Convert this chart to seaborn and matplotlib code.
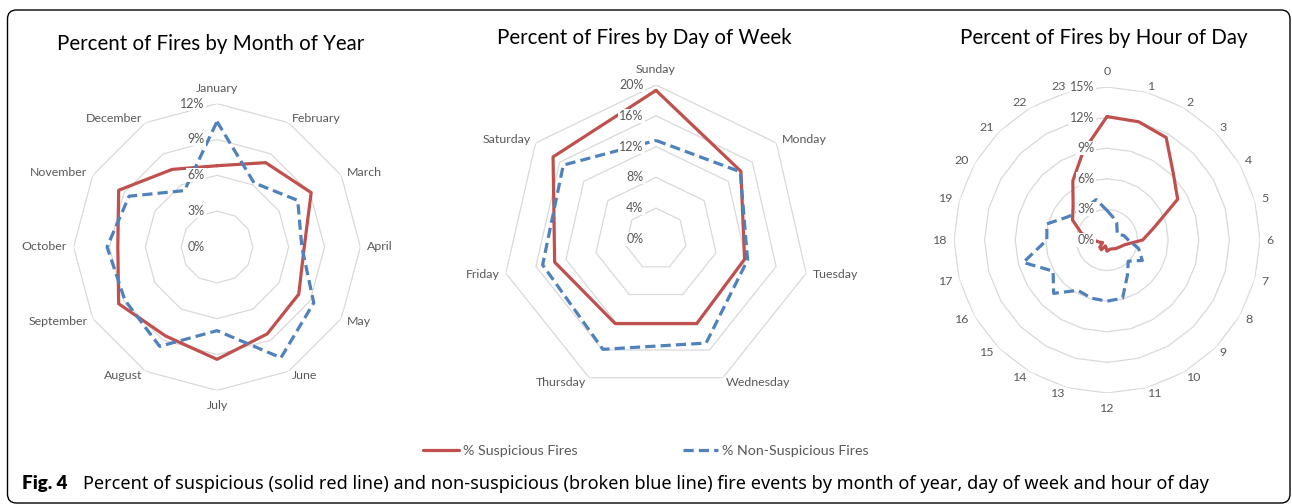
"""
Radar charts: percent of suspicious vs non-suspicious fires
by month of year, day of week and hour of day
"""

import numpy as np
import pandas as pd
import matplotlib
matplotlib.use("Agg")
import matplotlib.pyplot as plt
from matplotlib.patches import FancyBboxPatch
from matplotlib.transforms import IdentityTransform
import seaborn as sns

# ---------- data (percent of fires) ----------
months = ['January', 'February', 'March', 'April', 'May', 'June',
          'July', 'August', 'September', 'October', 'November', 'December']
month_susp = [6.8, 8.15, 9.1, 7.3, 7.9, 8.4, 9.4, 8.6, 9.5, 8.3, 9.5, 7.5]
month_nonsusp = [10.5, 6.2, 7.8, 7.1, 9.35, 10.7, 7.0, 9.6, 8.9, 9.2, 8.5, 5.45]
month_ticks = [0, 3, 6, 9, 12]

days = ['Sunday', 'Monday', 'Tuesday', 'Wednesday', 'Thursday', 'Friday', 'Saturday']
day_susp = [19.3, 14.1, 11.8, 12.2, 12.2, 13.5, 17.1]
day_nonsusp = [12.8, 14.0, 12.2, 15.0, 15.9, 15.1, 15.4]
day_ticks = [0, 4, 8, 12, 16, 20]

hours = [str(h) for h in range(24)]
hour_susp = [12.1, 12.0, 11.6, 9.2, 8.0, 4.8, 3.5, 1.8, 1.4, 1.2, 1.0, 0.95,
             1.1, 0.6, 1.1, 1.0, 0.5, 0.8, 1.3, 2.6, 3.9, 4.7, 6.7, 9.0]
hour_nonsusp = [2.9, 2.3, 1.9, 1.4, 1.15, 1.7, 2.1, 3.2, 4.0, 2.95, 4.0, 5.9,
                6.0, 5.9, 5.7, 7.4, 6.1, 8.5, 5.9, 6.1, 4.5, 3.9, 3.8, 4.1]
hour_ticks = [0, 3, 6, 9, 12, 15]

RED = '#C0504D'
BLUE = '#4F81BD'
GRID = '#D9D9D9'
LABEL = '#595959'
W, H = 1292, 504

sns.set_theme(style='white')
plt.rcParams['font.family'] = ['Lato', 'DejaVu Sans']

fig = plt.figure(figsize=(W / 100, H / 100), dpi=100)
fig.patch.set_facecolor('white')


def radar(cx, cy, radius, cats, susp, nonsusp, ticks, title, tx, ty):
    """Excel-style radar chart centred at pixel (cx, cy)"""
    rect = [(cx - radius) / W, (H - cy - radius) / H, 2 * radius / W, 2 * radius / H]
    ax = fig.add_axes(rect, projection='polar')
    ax.set_theta_zero_location('N')
    ax.set_theta_direction(-1)

    n = len(cats)
    theta = np.linspace(0, 2 * np.pi, n, endpoint=False)
    closed = np.append(theta, 2 * np.pi)

    # polygon grid rings
    for t in ticks[1:]:
        ax.plot(closed, [t] * (n + 1), color=GRID, lw=0.9, zorder=1)

    df = pd.DataFrame({'theta': closed,
                       'susp': list(susp) + [susp[0]],
                       'non': list(nonsusp) + [nonsusp[0]]})
    sns.lineplot(data=df, x='theta', y='susp', sort=False, estimator=None,
                 color=RED, lw=2.3, ax=ax, label='% Suspicious Fires', zorder=3)
    sns.lineplot(data=df, x='theta', y='non', sort=False, estimator=None,
                 color=BLUE, lw=2.3, linestyle=(0, (3.2, 1.6)), ax=ax,
                 label='% Non-Suspicious Fires', zorder=3)

    ax.set_ylim(0, ticks[-1])
    ax.set_xticks([])
    ax.set_yticks([])
    ax.grid(False)
    ax.spines['polar'].set_visible(False)
    ax.set_xlabel('')
    ax.set_ylabel('')
    ax.get_legend().remove()

    # radial value labels
    for t in ticks:
        ax.annotate(f'{t}%', xy=(0, t), xytext=(-9, 0), textcoords='offset points',
                    ha='right', va='center', fontsize=9, color=LABEL,
                    bbox=dict(boxstyle='square,pad=0.08', fc='white', ec='none'),
                    zorder=5, annotation_clip=False)

    # category labels around the outside
    for th, lab in zip(theta, cats):
        s, c = np.sin(th), np.cos(th)
        if abs(s) < 0.05:
            ha, va = 'center', ('bottom' if c > 0 else 'top')
            dx, dy = 0, 10 * np.sign(c)
        else:
            ha, va = ('left' if s > 0 else 'right'), 'center'
            dx, dy = 6.5 * s, 5.5 * c
        ax.annotate(lab, xy=(th, ticks[-1]), xytext=(dx * 0.72, dy * 0.72),
                    textcoords='offset points', ha=ha, va=va, fontsize=8.9,
                    color=LABEL, annotation_clip=False)

    fig.text(tx / W, 1 - ty / H, title, ha='center', va='center',
             fontsize=14.8, color='black')
    return ax


ax1 = radar(217, 247, 143.4, months, month_susp, month_nonsusp, month_ticks,
            'Percent of Fires by Month of Year', 211, 44)
radar(656, 239, 154, days, day_susp, day_nonsusp, day_ticks,
      'Percent of Fires by Day of Week', 644, 38)
radar(1107, 240, 153, hours, hour_susp, hour_nonsusp, hour_ticks,
      'Percent of Fires by Hour of Day', 1104, 38)

# shared legend
handles, labels = ax1.get_legend_handles_labels()
fig.legend(handles, labels, loc='center', bbox_to_anchor=(646 / W, 1 - 451 / H),
           ncol=2, frameon=False, fontsize=10.3, handlelength=2.5,
           handletextpad=0.25, columnspacing=7.35, labelcolor=LABEL)

# caption
fig.text(22 / W, 1 - 484 / H, 'Fig. 4', family=['Lato', 'DejaVu Sans'],
         fontweight='heavy', fontsize=13.5, va='center', ha='left', color='black')
fig.text(83 / W, 1 - 484 / H,
         'Percent of suspicious (solid red line) and non-suspicious (broken blue line) '
         'fire events by month of year, day of week and hour of day',
         family=['Noto Sans', 'DejaVu Sans'], fontstretch='condensed', fontsize=13,
         va='center', ha='left', color='black')

# rounded frame
frame = FancyBboxPatch((7.5, 1), 1282.5, 493, boxstyle='round,pad=0,rounding_size=9',
                       transform=IdentityTransform(), fill=False, ec='black', lw=1.0)
fig.add_artist(frame)

fig.savefig('out.png', dpi=100, facecolor='white')
